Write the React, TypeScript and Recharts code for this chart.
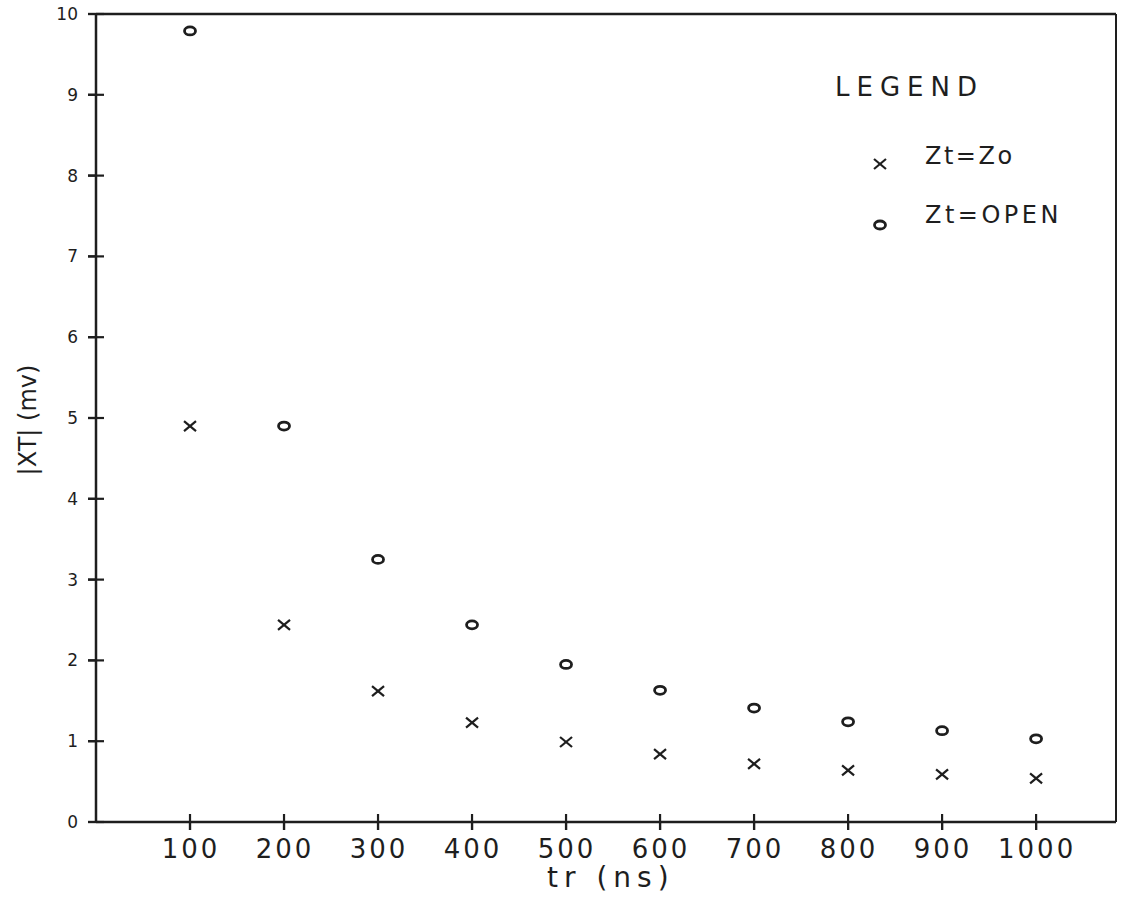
import { ScatterChart, Scatter, XAxis, YAxis, ReferenceLine } from 'recharts';

const trValues = [100, 200, 300, 400, 500, 600, 700, 800, 900, 1000];
const matchedXt = [4.9, 2.44, 1.62, 1.23, 0.99, 0.84, 0.72, 0.64, 0.59, 0.54];
const openXt = [9.79, 4.9, 3.25, 2.44, 1.95, 1.63, 1.41, 1.24, 1.13, 1.03];
const xTicks = [100, 200, 300, 400, 500, 600, 700, 800, 900, 1000];
const yTicks = [0, 1, 2, 3, 4, 5, 6, 7, 8, 9, 10];

const matchedData = trValues.map((tr, i) => ({ tr, xt: matchedXt[i] }));
const openData = trValues.map((tr, i) => ({ tr, xt: openXt[i] }));

const ink = '#1e1e1e';
const font = '"DejaVu Sans", sans-serif';

const Cross = ({ cx, cy }: any) => (
  <g stroke={ink} strokeWidth={2.2}>
    <line x1={cx - 6} y1={cy - 5} x2={cx + 6} y2={cy + 5} />
    <line x1={cx - 6} y1={cy + 5} x2={cx + 6} y2={cy - 5} />
  </g>
);

const Ring = ({ cx, cy }: any) => (
  <ellipse cx={cx} cy={cy} rx={5.5} ry={4} fill="none" stroke={ink} strokeWidth={2.8} />
);

// tick x is 8px left of the axis (tickSize 8); draw the mark across the axis
const YTick = ({ x, y, payload }: any) => (
  <g>
    <path d={`M${x},${y}H${x + 16}`} stroke={ink} strokeWidth={2.2} fill="none" />
    <text x={x - 10} y={y} dy={6} textAnchor="end" fontSize={17} fontFamily={font} fill={ink}>
      {payload.value}
    </text>
  </g>
);

const XTick = ({ x, y, payload }: any) => (
  <g>
    <path d={`M${x},${y - 16}V${y}`} stroke={ink} strokeWidth={2.2} fill="none" />
    <text x={x + 1} y={y + 28} textAnchor="middle" fontSize={26} letterSpacing={3} fontFamily={font} fill={ink}>
      {payload.value}
    </text>
  </g>
);

export default function App() {
  return (
    <div style={{ position: 'absolute', left: 0, top: 0, width: 1124, height: 912, background: '#fff' }}>
      <ScatterChart width={1124} height={912} margin={{ top: 14, right: 8, bottom: 30, left: 36 }}>
        <XAxis
          type="number"
          dataKey="tr"
          domain={[0, 1085]}
          ticks={xTicks}
          tick={<XTick />}
          tickLine={{ stroke: ink, strokeWidth: 2.2 }}
          tickSize={8}
          tickMargin={0}
          height={60}
          axisLine={{ stroke: ink, strokeWidth: 2.5 }}
          allowDataOverflow
        />
        <YAxis
          type="number"
          dataKey="xt"
          domain={[0, 10]}
          ticks={yTicks}
          tick={<YTick />}
          tickLine={{ stroke: ink, strokeWidth: 2.2 }}
          tickSize={8}
          tickMargin={0}
          width={60}
          axisLine={{ stroke: ink, strokeWidth: 2.5 }}
        />
        <ReferenceLine y={10} stroke={ink} strokeWidth={2.5} />
        <ReferenceLine x={1085} stroke={ink} strokeWidth={2} />
        <Scatter data={matchedData} shape={<Cross />} isAnimationActive={false} />
        <Scatter data={openData} shape={<Ring />} isAnimationActive={false} />
      </ScatterChart>
      <div
        style={{
          position: 'absolute', left: 0, top: 0, width: 1124, height: 912,
          pointerEvents: 'none', fontFamily: font, color: ink,
        }}
      >
        <div style={{ position: 'absolute', left: 835, top: 72, fontSize: 26, letterSpacing: 7 }}>LEGEND</div>
        <svg style={{ position: 'absolute', left: 860, top: 145 }} width={40} height={100}>
          <Cross cx={20} cy={19} />
          <Ring cx={20} cy={80} />
        </svg>
        <div style={{ position: 'absolute', left: 925, top: 142, fontSize: 24, letterSpacing: 2.5 }}>Zt=Zo</div>
        <div style={{ position: 'absolute', left: 925, top: 201, fontSize: 24, letterSpacing: 3.5 }}>Zt=OPEN</div>
        <div style={{ position: 'absolute', left: 547, top: 864, fontSize: 28, lineHeight: 1, letterSpacing: 6, whiteSpace: 'pre' }}>tr (ns)</div>
        <div
          style={{
            position: 'absolute', left: 28, top: 420, fontSize: 24, whiteSpace: 'pre',
            transform: 'translate(-50%, -50%) rotate(-90deg)',
          }}
        >
          |XT| (mv)
        </div>
      </div>
    </div>
  );
}
